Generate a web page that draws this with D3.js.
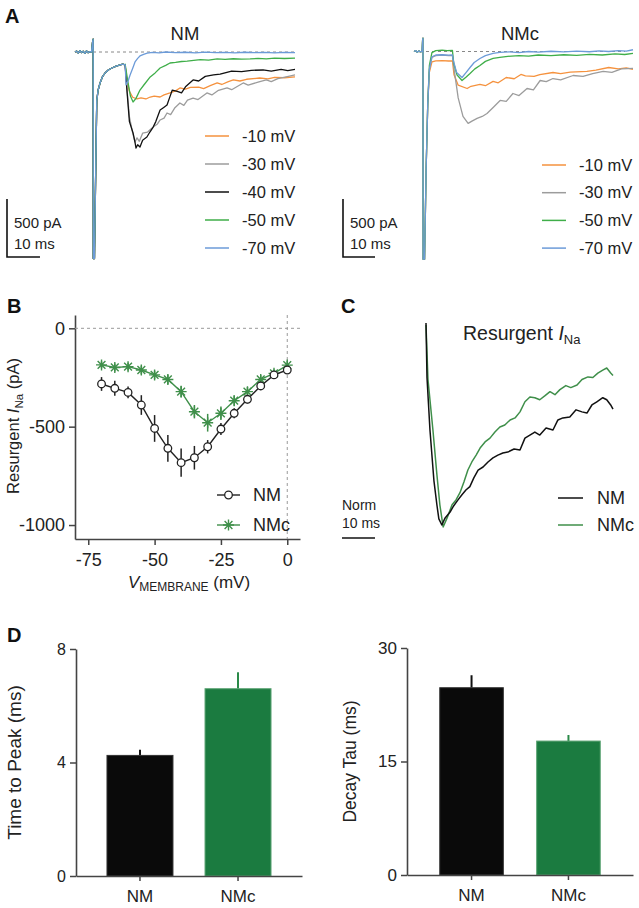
<!DOCTYPE html>
<html><head><meta charset="utf-8">
<script src="https://cdn.jsdelivr.net/npm/d3@7"></script>
<style>body{margin:0;background:#fff} text{font-family:"Liberation Sans",Arial,Helvetica,sans-serif}</style>
</head><body><svg id="c" width="639" height="908"></svg>
<script>
// ---------------- DATA ----------------
// Panel A colours / legend
const aColors = {m10:"#f5923e", m30:"#9c9c9c", m40:"#111111", m50:"#3fae49", m70:"#6c9bd8"};
const legendNM  = [["-10 mV","m10"],["-30 mV","m30"],["-40 mV","m40"],["-50 mV","m50"],["-70 mV","m70"]];
const legendNMc = [["-10 mV","m10"],["-30 mV","m30"],["-50 mV","m50"],["-70 mV","m70"]];
// Panel A, NM traces: [time ms, current pA]
const nmPre = [[-5.5,0],[-5,8],[-4.5,-10],[-4,12],[-3.5,-5],[-3,6],[-2.5,-12],[-2,10],[-1.5,-6],[-1,4],[-0.5,0],[-0.2,80],[0,110],[0.05,-1780],[0.4,-1780],[0.8,-990],[1.1,-420],[1.5,-330],[2.1,-267],[2.8,-215],[3.6,-181],[4.6,-155],[5.7,-138],[7,-122],[8.2,-112],[9,-105],[9.5,-110]];
const nm70 = [[9.7,-110],[10,-284],[10.6,-250],[11.2,-198],[12,-140],[12.7,-86],[13.5,-55],[14.2,-34],[15.3,-20],[16.4,-9],[18,-4],[20,-8],[22,0],[25,-6],[28,-2],[31,-7],[34,-1],[37,-5],[40,-3],[43,-8],[46,-2],[49,-6],[52,-3],[55,-7],[58,-4],[61.2,-6]];
const nm50 = [[9.7,-105],[10.5,-250],[11.3,-380],[12.1,-431],[13,-400],[14.2,-328],[15.5,-280],[17.3,-215],[18.8,-180],[20.3,-138],[22,-115],[23.3,-95],[25,-90],[26.8,-82],[28.5,-78],[30.5,-72],[32.5,-66],[35,-70],[37.6,-60],[40,-64],[42.5,-58],[45,-62],[47.6,-60],[50,-55],[52.5,-59],[55,-53],[58,-56],[61.2,-52]];
const nm10 = [[9.7,-120],[10.3,-250],[11,-340],[12,-390],[13.3,-405],[14.5,-395],[16,-405],[17.3,-388],[18.5,-380],[20.3,-388],[21.5,-370],[23.3,-353],[25,-335],[26.3,-310],[28,-320],[29.5,-305],[32,-302],[33.5,-315],[35.5,-290],[37.6,-267],[39,-280],[41,-255],[42.5,-241],[44.5,-250],[46.5,-235],[50.5,-224],[53,-232],[55,-218],[58,-222],[61.2,-215]];
const nm40 = [[9.7,-110],[10.3,-350],[11,-600],[12.1,-698],[12.7,-780],[13,-828],[13.5,-800],[14.2,-819],[15,-760],[16.3,-733],[17.2,-690],[18.2,-647],[19,-600],[20.3,-500],[21.3,-480],[22.4,-457],[23.1,-400],[24,-328],[25.5,-340],[26.8,-353],[28,-300],[30.3,-241],[32,-250],[34,-210],[36.5,-198],[38.5,-190],[42,-164],[45,-170],[48,-158],[51.5,-155],[54,-165],[57,-150],[59,-160],[61.2,-150]];
const nm30 = [[9.7,-110],[10.3,-330],[11,-560],[12,-700],[12.7,-776],[13.3,-740],[14,-770],[15,-700],[16.5,-690],[18.2,-647],[19.5,-620],[20.3,-586],[21.5,-570],[22.4,-526],[23.5,-540],[24.8,-480],[26.3,-440],[27.5,-460],[28.6,-415],[30.3,-397],[31.8,-410],[34.5,-353],[36,-370],[38,-330],[40.6,-310],[42,-325],[45.5,-267],[47,-285],[50,-260],[52.5,-241],[54,-255],[56,-230],[58.5,-215],[61.2,-198]];
// Panel A, NMc traces
const nmcPre = [[-2.8,0],[-2.3,8],[-1.8,-6],[-1.3,5],[-0.8,-3],[-0.3,2],[-0.1,100],[0,115],[0.05,-1790],[0.5,-1790],[1,-1000],[1.5,-450]];
const nmc70 = [[2,-150],[2.8,-45],[4,-30],[6,-28],[8,-32],[9.2,-30],[9.5,-80],[10.5,-180],[12.2,-224],[13.5,-180],[14.7,-138],[16,-95],[17.8,-60],[19.5,-35],[21.9,-17],[24,-8],[27,-3],[30,-10],[33,0],[36,-5],[40,2],[44,-3],[48,4],[52,-2],[55,5],[58,0],[61,8],[63.5,3],[65.6,15]];
const nmc50 = [[2,-120],[2.8,-10],[4,8],[6,12],[7.5,8],[9.2,10],[9.6,-100],[10.6,-200],[12.2,-250],[13.5,-220],[14.7,-190],[16.2,-150],[17.8,-120],[19.5,-85],[21.9,-60],[24,-50],[26.5,-42],[30,-35],[33,-40],[36,-30],[40,-36],[44,-28],[48,-33],[52,-25],[56,-30],[60,-20],[63,-26],[65.6,-17]];
const nmc10 = [[2,-180],[2.8,-90],[4,-80],[6,-78],[8,-82],[9.2,-80],[9.7,-200],[11,-290],[13.8,-319],[15,-300],[17.8,-284],[19.5,-295],[21.9,-258],[23.5,-270],[26,-224],[28.5,-235],[30.6,-198],[32,-210],[34.7,-215],[36.5,-200],[40.6,-181],[43,-190],[46,-178],[51.2,-172],[54,-160],[58,-138],[61,-150],[63.5,-142],[65.6,-155]];
const nmc30 = [[2,-160],[2.8,-50],[4,-35],[6,-32],[8,-36],[9.2,-35],[9.7,-150],[11,-400],[12.5,-560],[14.1,-620],[15.3,-600],[16.9,-577],[18.5,-560],[20,-534],[22,-480],[24.1,-422],[26,-430],[28.1,-362],[30,-380],[32.5,-319],[34.5,-330],[36.6,-250],[38.5,-260],[40.6,-233],[43,-245],[46.9,-207],[50,-215],[53,-190],[56.3,-172],[59,-180],[62,-150],[65.6,-146]];

// Panel B: I-V
const vm = [-70,-65,-60,-55,-50,-45,-40,-35,-30,-25,-20,-15,-10,-5,0];
const ivNM     = [-283,-305,-326,-390,-509,-610,-683,-658,-602,-512,-432,-361,-293,-237,-212];
const ivNMerr  = [35,38,30,50,68,68,72,60,34,30,25,21,21,17,18];
const ivNMc    = [-186,-199,-195,-212,-237,-260,-322,-424,-480,-432,-368,-322,-260,-229,-187];
const ivNMcErr = [18,20,20,22,22,24,30,34,45,34,26,24,22,20,22];
const bTicksX = [-75,-50,-25,0];
const bTicksY = [0,-500,-1000];

// Panel C: normalised resurgent current [ms, norm]
const cNM = [[0,0.01],[0.3,-0.26],[1.2,-0.52],[2.4,-0.77],[3.3,-0.89],[3.9,-0.96],[4.8,-0.99],[5.8,-0.955],[7.3,-0.926],[8.2,-0.9],[9.7,-0.866],[10.9,-0.84],[12.1,-0.817],[13.3,-0.8],[14.5,-0.757],[15.8,-0.718],[17.3,-0.703],[18.8,-0.678],[20.3,-0.658],[21.8,-0.644],[23.3,-0.634],[24.8,-0.629],[26.7,-0.614],[28.5,-0.619],[30,-0.56],[31.5,-0.545],[33,-0.53],[34.5,-0.545],[36.4,-0.51],[38.5,-0.52],[40,-0.47],[41.5,-0.46],[43.6,-0.455],[45.5,-0.42],[47.3,-0.43],[48.8,-0.436],[50.3,-0.396],[51.8,-0.38],[53.6,-0.36],[54.8,-0.37],[56,-0.396],[56.7,-0.416]];
const cNMc = [[0,0],[0.6,-0.27],[2.1,-0.52],[3.3,-0.74],[4.2,-0.89],[5.2,-1.0],[6.4,-0.955],[7.9,-0.89],[9.1,-0.866],[10.3,-0.83],[11.5,-0.777],[12.7,-0.718],[13.9,-0.678],[15.2,-0.644],[16.4,-0.609],[17.9,-0.579],[19.4,-0.56],[20.9,-0.53],[22.4,-0.505],[23.9,-0.495],[25.5,-0.47],[27,-0.46],[28.5,-0.43],[30,-0.38],[31.5,-0.356],[33,-0.36],[34.5,-0.37],[36.1,-0.35],[37.6,-0.33],[39.1,-0.345],[40.6,-0.32],[42.4,-0.3],[43.9,-0.31],[45.8,-0.297],[47.3,-0.27],[49.1,-0.257],[50.6,-0.26],[52.1,-0.238],[53.6,-0.223],[54.8,-0.213],[56,-0.238],[56.7,-0.25]];

// Panel D
const groups = ["NM","NMc"];
const ttp = [4.25, 6.6], ttpErr = [0.2, 0.58];
const tau = [24.75, 17.7], tauErr = [1.65, 0.8];
const ttpTicks = [0,4,8], tauTicks = [0,15,30];

// ---------------- DRAW ----------------
const svg = d3.select("#c");
svg.append("rect").attr("width",639).attr("height",908).attr("fill","#fff");
const FF = '"Liberation Sans",Arial,sans-serif';
const fmt = d => String(d);
function plabel(t,x,y){svg.append("text").attr("x",x).attr("y",y).attr("font-size",20).attr("font-weight","bold").attr("fill","#111").text(t);}
plabel("A",5,23); plabel("B",7,313); plabel("C",341,313); plabel("D",7,642);

// Panel A helper
function panelA(cfg){
  const xs = d3.scaleLinear().domain(cfg.xd).range(cfg.xr);
  const ys = d3.scaleLinear().domain([0,-500]).range([cfg.y0, cfg.y0+58]);
  svg.append("line").attr("x1",cfg.xr[0]).attr("x2",cfg.dashEnd).attr("y1",ys(0)).attr("y2",ys(0))
     .attr("stroke","#888").attr("stroke-width",1).attr("stroke-dasharray","3,3");
  const line = d3.line().x(d=>xs(d[0])).y(d=>ys(d[1]));
  cfg.traces.forEach(tr=>{
    svg.append("path").datum(tr.data).attr("d",line).attr("fill","none")
      .attr("stroke",aColors[tr.key]).attr("stroke-width",1.3).attr("stroke-linejoin","round");
  });
  svg.append("text").attr("x",cfg.titleX).attr("y",40).attr("text-anchor","middle").attr("font-size",18.5).attr("fill","#222").text(cfg.title);
  cfg.legend.forEach((l,i)=>{
    const y = cfg.legY + i*cfg.legStep;
    svg.append("line").attr("x1",cfg.legX).attr("x2",cfg.legX+24).attr("y1",y).attr("y2",y).attr("stroke",aColors[l[1]]).attr("stroke-width",1.5);
    svg.append("text").attr("x",cfg.legX+37).attr("y",y+5.5).attr("font-size",16.5).attr("fill","#222").text(l[0]);
  });
  // scale bar: 500 pA, 10 ms
  const sb = cfg.sbX, sy = 257;
  const h = ys(-500)-ys(0), w = xs(10)-xs(0);
  svg.append("path").attr("d",`M${sb},${sy-h}V${sy}H${sb+w}`).attr("fill","none").attr("stroke","#111").attr("stroke-width",1.6);
  svg.append("text").attr("x",sb+7).attr("y",228).attr("font-size",15).attr("fill","#222").text("500 pA");
  svg.append("text").attr("x",sb+7).attr("y",249).attr("font-size",15).attr("fill","#222").text("10 ms");
}
panelA({xd:[-5.5,61.2], xr:[75,295], y0:52, dashEnd:295, title:"NM", titleX:185,
  traces:[{key:"m10",data:nmPre.concat(nm10)},{key:"m30",data:nmPre.concat(nm30)},{key:"m40",data:nmPre.concat(nm40)},{key:"m50",data:nmPre.concat(nm50)},{key:"m70",data:nmPre.concat(nm70)}],
  legend:legendNM, legX:205, legY:136, legStep:28, sbX:7});
panelA({xd:[-2.8,65.6], xr:[414,633], y0:51.5, dashEnd:625, title:"NMc", titleX:520,
  traces:[{key:"m10",data:nmcPre.concat(nmc10)},{key:"m30",data:nmcPre.concat(nmc30)},{key:"m50",data:nmcPre.concat(nmc50)},{key:"m70",data:nmcPre.concat(nmc70)}],
  legend:legendNMc, legX:542, legY:165, legStep:27.7, sbX:343});

// Panel B
{
  const xB = d3.scaleLinear().domain([-80,4.8]).range([75,300]);
  const yB = d3.scaleLinear().domain([67.6,-1071]).range([315,539]);
  const gx = svg.append("g").attr("transform","translate(0,539)")
    .call(d3.axisBottom(xB).tickValues(bTicksX).tickFormat(fmt).tickSize(6).tickPadding(8).tickSizeOuter(0));
  const gy = svg.append("g").attr("transform","translate(75,0)")
    .call(d3.axisLeft(yB).tickValues(bTicksY).tickFormat(fmt).tickSize(6).tickPadding(4).tickSizeOuter(0));
  [gx,gy].forEach(g=>{g.select(".domain").attr("stroke","#444").attr("stroke-width",1.6);
    g.selectAll(".tick line").attr("stroke","#444").attr("stroke-width",1.5);
    g.selectAll(".tick text").attr("font-size",18).attr("fill","#222").attr("font-family",FF);});
  svg.append("line").attr("x1",75).attr("x2",300).attr("y1",yB(0)).attr("y2",yB(0)).attr("stroke","#999").attr("stroke-dasharray","3,3");
  svg.append("line").attr("x1",xB(0)).attr("x2",xB(0)).attr("y1",315).attr("y2",539).attr("stroke","#999").attr("stroke-dasharray","3,3");
  const green = "#3f8f4a";
  const star = r=>{const d=r*0.707;return `M${-r},0H${r}M0,${-r}V${r}M${-d},${-d}L${d},${d}M${-d},${d}L${d},${-d}`;};
  const lineB = d3.line().x(d=>xB(d[0])).y(d=>yB(d[1]));
  // NMc
  svg.append("path").datum(vm.map((v,i)=>[v,ivNMc[i]])).attr("d",lineB).attr("fill","none").attr("stroke",green).attr("stroke-width",1.4);
  vm.forEach((v,i)=>{
    svg.append("line").attr("x1",xB(v)).attr("x2",xB(v)).attr("y1",yB(ivNMc[i]-ivNMcErr[i])).attr("y2",yB(ivNMc[i]+ivNMcErr[i])).attr("stroke",green).attr("stroke-width",1.5);
    svg.append("path").attr("d",star(5.5)).attr("transform",`translate(${xB(v)},${yB(ivNMc[i])})`).attr("stroke",green).attr("stroke-width",1.4);
  });
  // NM
  svg.append("path").datum(vm.map((v,i)=>[v,ivNM[i]])).attr("d",lineB).attr("fill","none").attr("stroke","#222").attr("stroke-width",1.4);
  vm.forEach((v,i)=>{
    svg.append("line").attr("x1",xB(v)).attr("x2",xB(v)).attr("y1",yB(ivNM[i]-ivNMerr[i])).attr("y2",yB(ivNM[i]+ivNMerr[i])).attr("stroke","#222").attr("stroke-width",1.5);
    svg.append("circle").attr("cx",xB(v)).attr("cy",yB(ivNM[i])).attr("r",3.8).attr("fill","#fff").attr("stroke","#222").attr("stroke-width",1.3);
  });
  // legend
  svg.append("line").attr("x1",217).attr("x2",240).attr("y1",495).attr("y2",495).attr("stroke","#222").attr("stroke-width",1.4);
  svg.append("circle").attr("cx",228.5).attr("cy",495).attr("r",3.8).attr("fill","#fff").attr("stroke","#222").attr("stroke-width",1.3);
  svg.append("text").attr("x",253).attr("y",501).attr("font-size",18).attr("fill","#222").text("NM");
  svg.append("line").attr("x1",217).attr("x2",240).attr("y1",525).attr("y2",525).attr("stroke",green).attr("stroke-width",1.4);
  svg.append("path").attr("d",star(5.5)).attr("transform","translate(228.5,525)").attr("stroke",green).attr("stroke-width",1.4);
  svg.append("text").attr("x",253).attr("y",531).attr("font-size",18).attr("fill","#222").text("NMc");
  // axis titles
  const yl = svg.append("text").attr("transform","translate(19,426) rotate(-90)").attr("text-anchor","middle").attr("font-size",16.5).attr("fill","#222");
  yl.append("tspan").text("Resurgent ");
  yl.append("tspan").attr("font-style","italic").text("I");
  yl.append("tspan").attr("font-size",11.5).attr("dy",4).text("Na");
  yl.append("tspan").attr("dy",-4).text(" (pA)");
  const xl = svg.append("text").attr("x",189).attr("y",588).attr("text-anchor","middle").attr("font-size",17).attr("fill","#222");
  xl.append("tspan").attr("font-style","italic").text("V");
  xl.append("tspan").attr("font-size",12).attr("dy",3).text("MEMBRANE");
  xl.append("tspan").attr("dy",-3).text(" (mV)");
}

// Panel C
{
  const xC = d3.scaleLinear().domain([0,56.7]).range([426,613]);
  const yC = d3.scaleLinear().domain([0,-1]).range([325,527]);
  const lineC = d3.line().x(d=>xC(d[0])).y(d=>yC(d[1]));
  const green = "#3f8f4a";
  svg.append("path").datum(cNMc).attr("d",lineC).attr("fill","none").attr("stroke",green).attr("stroke-width",1.5).attr("stroke-linejoin","round");
  svg.append("path").datum(cNM).attr("d",lineC).attr("fill","none").attr("stroke","#111").attr("stroke-width",1.5).attr("stroke-linejoin","round");
  const t = svg.append("text").attr("x",463).attr("y",340).attr("font-size",19.5).attr("fill","#222");
  t.append("tspan").text("Resurgent ");
  t.append("tspan").attr("font-style","italic").text("I");
  t.append("tspan").attr("font-size",13).attr("dy",4).text("Na");
  svg.append("text").attr("x",342).attr("y",510).attr("font-size",14).attr("fill","#222").text("Norm");
  svg.append("text").attr("x",342).attr("y",528).attr("font-size",14).attr("fill","#222").text("10 ms");
  svg.append("line").attr("x1",342).attr("x2",342+xC(10)-xC(0)).attr("y1",538).attr("y2",538).attr("stroke","#111").attr("stroke-width",1.6);
  svg.append("line").attr("x1",558).attr("x2",583).attr("y1",498).attr("y2",498).attr("stroke","#111").attr("stroke-width",1.5);
  svg.append("text").attr("x",597).attr("y",504).attr("font-size",18).attr("fill","#222").text("NM");
  svg.append("line").attr("x1",558).attr("x2",583).attr("y1",525).attr("y2",525).attr("stroke",green).attr("stroke-width",1.5);
  svg.append("text").attr("x",597).attr("y",531).attr("font-size",18).attr("fill","#222").text("NMc");
}

// Panel D
function barPanel(cfg){
  const x = d3.scaleBand().domain(groups).range(cfg.xr).paddingInner(cfg.pi).paddingOuter(cfg.po);
  const y = d3.scaleLinear().domain([0,cfg.max]).range([cfg.y0,cfg.y1]);
  const cols = ["#0a0a0a","#1b7b40"], strokes = ["#333","#5aa372"], errc = ["#111","#2a8a48"];
  groups.forEach((g,i)=>{
    svg.append("line").attr("x1",x(g)+x.bandwidth()/2).attr("x2",x(g)+x.bandwidth()/2)
      .attr("y1",y(cfg.vals[i])).attr("y2",y(cfg.vals[i]+cfg.err[i])).attr("stroke",errc[i]).attr("stroke-width",2);
    svg.append("rect").attr("x",x(g)).attr("width",x.bandwidth()).attr("y",y(cfg.vals[i])).attr("height",y(0)-y(cfg.vals[i]))
      .attr("fill",cols[i]).attr("stroke",strokes[i]).attr("stroke-width",1);
  });
  const gx = svg.append("g").attr("transform",`translate(0,${cfg.y0})`).call(d3.axisBottom(x).tickSize(5).tickPadding(9).tickSizeOuter(0));
  const gy = svg.append("g").attr("transform",`translate(${cfg.xr[0]},0)`).call(d3.axisLeft(y).tickValues(cfg.ticks).tickSize(6).tickPadding(4).tickSizeOuter(0));
  [gx,gy].forEach(g=>{g.select(".domain").attr("stroke","#444").attr("stroke-width",1.6);
    g.selectAll(".tick line").attr("stroke","#444").attr("stroke-width",1.5);
    g.selectAll(".tick text").attr("fill","#222").attr("font-family",FF);});
  gx.selectAll(".tick text").attr("font-size",cfg.xfs);
  gy.selectAll(".tick text").attr("font-size",cfg.fs);
  svg.append("text").attr("transform",`translate(${cfg.lx},${(cfg.y0+cfg.y1)/2}) rotate(-90)`).attr("text-anchor","middle")
    .attr("font-size",cfg.lfs).attr("fill","#222").text(cfg.label);
}
barPanel({xr:[76,302], pi:0.327, po:0.316, y0:876, y1:649, max:8, vals:ttp, err:ttpErr, ticks:ttpTicks, fs:16, xfs:17, lfs:19, lx:21, label:"Time to Peak (ms)"});
barPanel({xr:[407,633], pi:0.344, po:0.338, y0:875, y1:648, max:30, vals:tau, err:tauErr, ticks:tauTicks, fs:17, xfs:17, lfs:17.5, lx:356, label:"Decay Tau (ms)"});
</script></body></html>
